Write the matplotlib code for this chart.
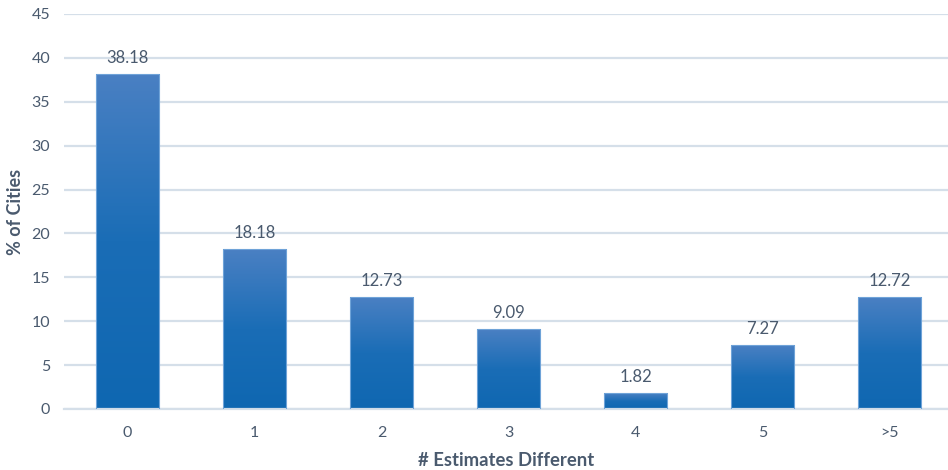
import matplotlib
matplotlib.use("Agg")
import matplotlib.pyplot as plt
import numpy as np
from matplotlib.colors import LinearSegmentedColormap

categories = ["0", "1", "2", "3", "4", "5", ">5"]
values = [38.18, 18.18, 12.73, 9.09, 1.82, 7.27, 12.72]
value_labels = ["38.18", "18.18", "12.73", "9.09", "1.82", "7.27", "12.72"]
yticks = [0, 5, 10, 15, 20, 25, 30, 35, 40, 45]

plt.rcParams['font.family'] = ['Lato', 'DejaVu Sans']
text_color = "#4a5a6e"

fig = plt.figure(figsize=(9.48, 4.70), dpi=100)
ax = fig.add_axes([64 / 948, 1 - 409 / 470, (948 - 64) / 948, (409 - 14) / 470])

cmap = LinearSegmentedColormap.from_list("g", ["#0f67b1", "#1a6db6", "#4a80c3"])
grad = np.linspace(0, 1, 256).reshape(-1, 1)
width = 0.5
x = np.arange(len(categories))
bars = ax.bar(x, values, width=width, color="none", edgecolor="#6fa3d8",
              linewidth=0.8, zorder=3)
for b in bars:
    x0, y0 = b.get_x(), b.get_y()
    w, h = b.get_width(), b.get_height()
    im = ax.imshow(grad, extent=[x0, x0 + w, y0, y0 + h], origin="lower",
                   cmap=cmap, aspect="auto", zorder=2)
    im.set_clip_path(b)
for xi, v, lab in zip(x, values, value_labels):
    ax.annotate(lab, (xi, v), xytext=(0, 6), textcoords="offset points",
                ha="center", va="bottom", fontsize=12, color=text_color)

ax.set_xlim(-0.5, 6.5 - 5 / 127)
ax.set_ylim(0, 45)
ax.set_yticks(yticks)
ax.set_xticks(x)
ax.set_xticklabels(categories)
ax.tick_params(axis="both", length=0, labelsize=11.5, labelcolor=text_color)
ax.tick_params(axis="y", pad=10)
ax.tick_params(axis="x", pad=12)
ax.grid(axis="y", color="#d5dfe9", linewidth=1.6, zorder=0)
ax.set_axisbelow(True)
for s in ["top", "right", "left"]:
    ax.spines[s].set_visible(False)
ax.spines["bottom"].set_color("#d5dfe9")
ax.spines["bottom"].set_linewidth(1.6)

fig.text(16 / 948, 1 - 212 / 470, "% of Cities", rotation=90, ha="center", va="center",
         fontsize=13, fontweight="bold", color=text_color)
ax.set_xlabel("# Estimates Different", fontsize=13.3, fontweight="bold", color=text_color, labelpad=9)

fig.savefig("out.png", dpi=100)
